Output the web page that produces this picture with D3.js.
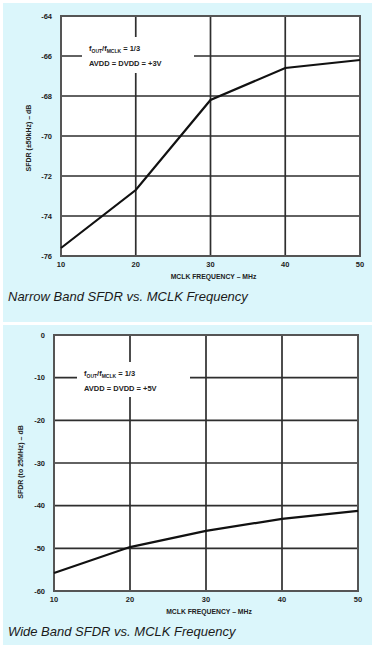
<!DOCTYPE html>
<html>
<head>
<meta charset="utf-8">
<script src="https://cdn.jsdelivr.net/npm/d3@7"></script>
<style>
  html, body { margin: 0; padding: 0; background: #fff; }
  svg { display: block; font-family: "Liberation Sans", Arial, sans-serif; }
</style>
</head>
<body>
<div id="chart"></div>
<script>
// MCLK frequency (MHz), shared by both plots
const mclk = [10, 20, 30, 40, 50];
const xTicks = [10, 20, 30, 40, 50];

// Narrow band SFDR (dB)
const narrowSfdr = [-75.6, -72.7, -68.2, -66.6, -66.2];
const narrowTicks = [-64, -66, -68, -70, -72, -74, -76];

// Wide band SFDR (dB)
const wideSfdr = [-55.8, -49.7, -45.9, -43.1, -41.2];
const wideTicks = [0, -10, -20, -30, -40, -50, -60];

const width = 374, height = 645;
const svg = d3.select('#chart').append('svg')
  .attr('width', width)
  .attr('height', height);

const panelFill = '#dbf6fb';
const gridColor = '#2e2e2e';

function drawPanel(cfg) {
  const g = svg.append('g');

  // cyan card behind the plot
  g.append('rect')
    .attr('x', cfg.panel[0]).attr('y', cfg.panel[1])
    .attr('width', cfg.panel[2]).attr('height', cfg.panel[3])
    .attr('fill', panelFill);

  const x = d3.scaleLinear().domain([10, 50]).range([cfg.left, cfg.right]);
  const y = d3.scaleLinear().domain(cfg.yDomain).range([cfg.top, cfg.bottom]);

  g.append('rect')
    .attr('x', cfg.left).attr('y', cfg.top)
    .attr('width', cfg.right - cfg.left).attr('height', cfg.bottom - cfg.top)
    .attr('fill', '#fff');

  // grid
  g.append('g').selectAll('line.v').data(xTicks).enter().append('line')
    .attr('x1', d => x(d)).attr('x2', d => x(d))
    .attr('y1', cfg.top).attr('y2', cfg.bottom)
    .attr('stroke', gridColor).attr('stroke-width', 1.7);
  g.append('g').selectAll('line.h').data(cfg.yTicks).enter().append('line')
    .attr('x1', cfg.left).attr('x2', cfg.right)
    .attr('y1', d => y(d)).attr('y2', d => y(d))
    .attr('stroke', gridColor).attr('stroke-width', 1.7);

  // frame
  g.append('rect')
    .attr('x', cfg.left).attr('y', cfg.top)
    .attr('width', cfg.right - cfg.left).attr('height', cfg.bottom - cfg.top)
    .attr('fill', 'none').attr('stroke', '#555').attr('stroke-width', 2);

  // white patch behind the annotation
  g.append('rect')
    .attr('x', cfg.note[0]).attr('y', cfg.note[1])
    .attr('width', cfg.note[2]).attr('height', cfg.note[3])
    .attr('fill', '#fff');

  const note = g.append('g')
    .attr('font-size', 7.5).attr('font-weight', 'bold').attr('fill', '#222');
  const t1 = note.append('text').attr('x', cfg.note[0] + 7).attr('y', cfg.note[1] + 14);
  t1.append('tspan').text('f');
  t1.append('tspan').attr('font-size', 5).attr('dy', 2).text('OUT');
  t1.append('tspan').attr('dy', -2).text('/f');
  t1.append('tspan').attr('font-size', 5).attr('dy', 2).text('MCLK');
  t1.append('tspan').attr('dy', -2).text(' = 1/3');
  note.append('text').attr('x', cfg.note[0] + 7).attr('y', cfg.note[1] + 29)
    .text(cfg.supply);

  // data line
  const line = d3.line().x((d, i) => x(mclk[i])).y(d => y(d));
  g.append('path')
    .datum(cfg.values)
    .attr('d', line)
    .attr('fill', 'none')
    .attr('stroke', '#111')
    .attr('stroke-width', 2.2);

  // tick labels
  const lab = g.append('g').attr('font-size', 7.5).attr('font-weight', 'bold').attr('fill', '#222');
  lab.selectAll('text.y').data(cfg.yTicks).enter().append('text')
    .attr('x', cfg.left - 9).attr('y', d => y(d) + 2.5)
    .attr('text-anchor', 'end')
    .text(d => d);
  lab.selectAll('text.x').data(xTicks).enter().append('text')
    .attr('x', d => x(d)).attr('y', cfg.bottom + 11)
    .attr('text-anchor', 'middle')
    .text(d => d);

  lab.append('text')
    .attr('x', (cfg.left + cfg.right) / 2 + 3).attr('y', cfg.bottom + 23)
    .attr('text-anchor', 'middle').attr('font-size', 6.8)
    .text('MCLK FREQUENCY – MHz');

  lab.append('text')
    .attr('transform', `translate(${cfg.yLabelX},${cfg.yLabelY}) rotate(-90)`)
    .attr('text-anchor', 'middle').attr('font-size', 7)
    .text(cfg.yLabel);

  // caption
  g.append('text')
    .attr('x', cfg.panel[0] + 5).attr('y', cfg.bottom + 45)
    .attr('font-size', 13).attr('font-style', 'italic').attr('fill', '#1a1a1a')
    .text(cfg.title);
}

drawPanel({
  panel: [3, 3, 369, 319],
  left: 61, right: 360, top: 16, bottom: 256,
  yDomain: [-64, -76], yTicks: narrowTicks,
  values: narrowSfdr,
  note: [82, 37, 112, 36],
  supply: 'AVDD = DVDD = +3V',
  yLabel: 'SFDR (±50kHz) – dB', yLabelX: 31, yLabelY: 138,
  title: 'Narrow Band SFDR vs. MCLK Frequency'
});

drawPanel({
  panel: [3, 325, 369, 320],
  left: 54, right: 358, top: 335, bottom: 591,
  yDomain: [0, -60], yTicks: wideTicks,
  values: wideSfdr,
  note: [77, 362, 113, 35],
  supply: 'AVDD = DVDD = +5V',
  yLabel: 'SFDR (to 25MHz) – dB', yLabelX: 23, yLabelY: 462,
  title: 'Wide Band SFDR vs. MCLK Frequency'
});
</script>
</body>
</html>
